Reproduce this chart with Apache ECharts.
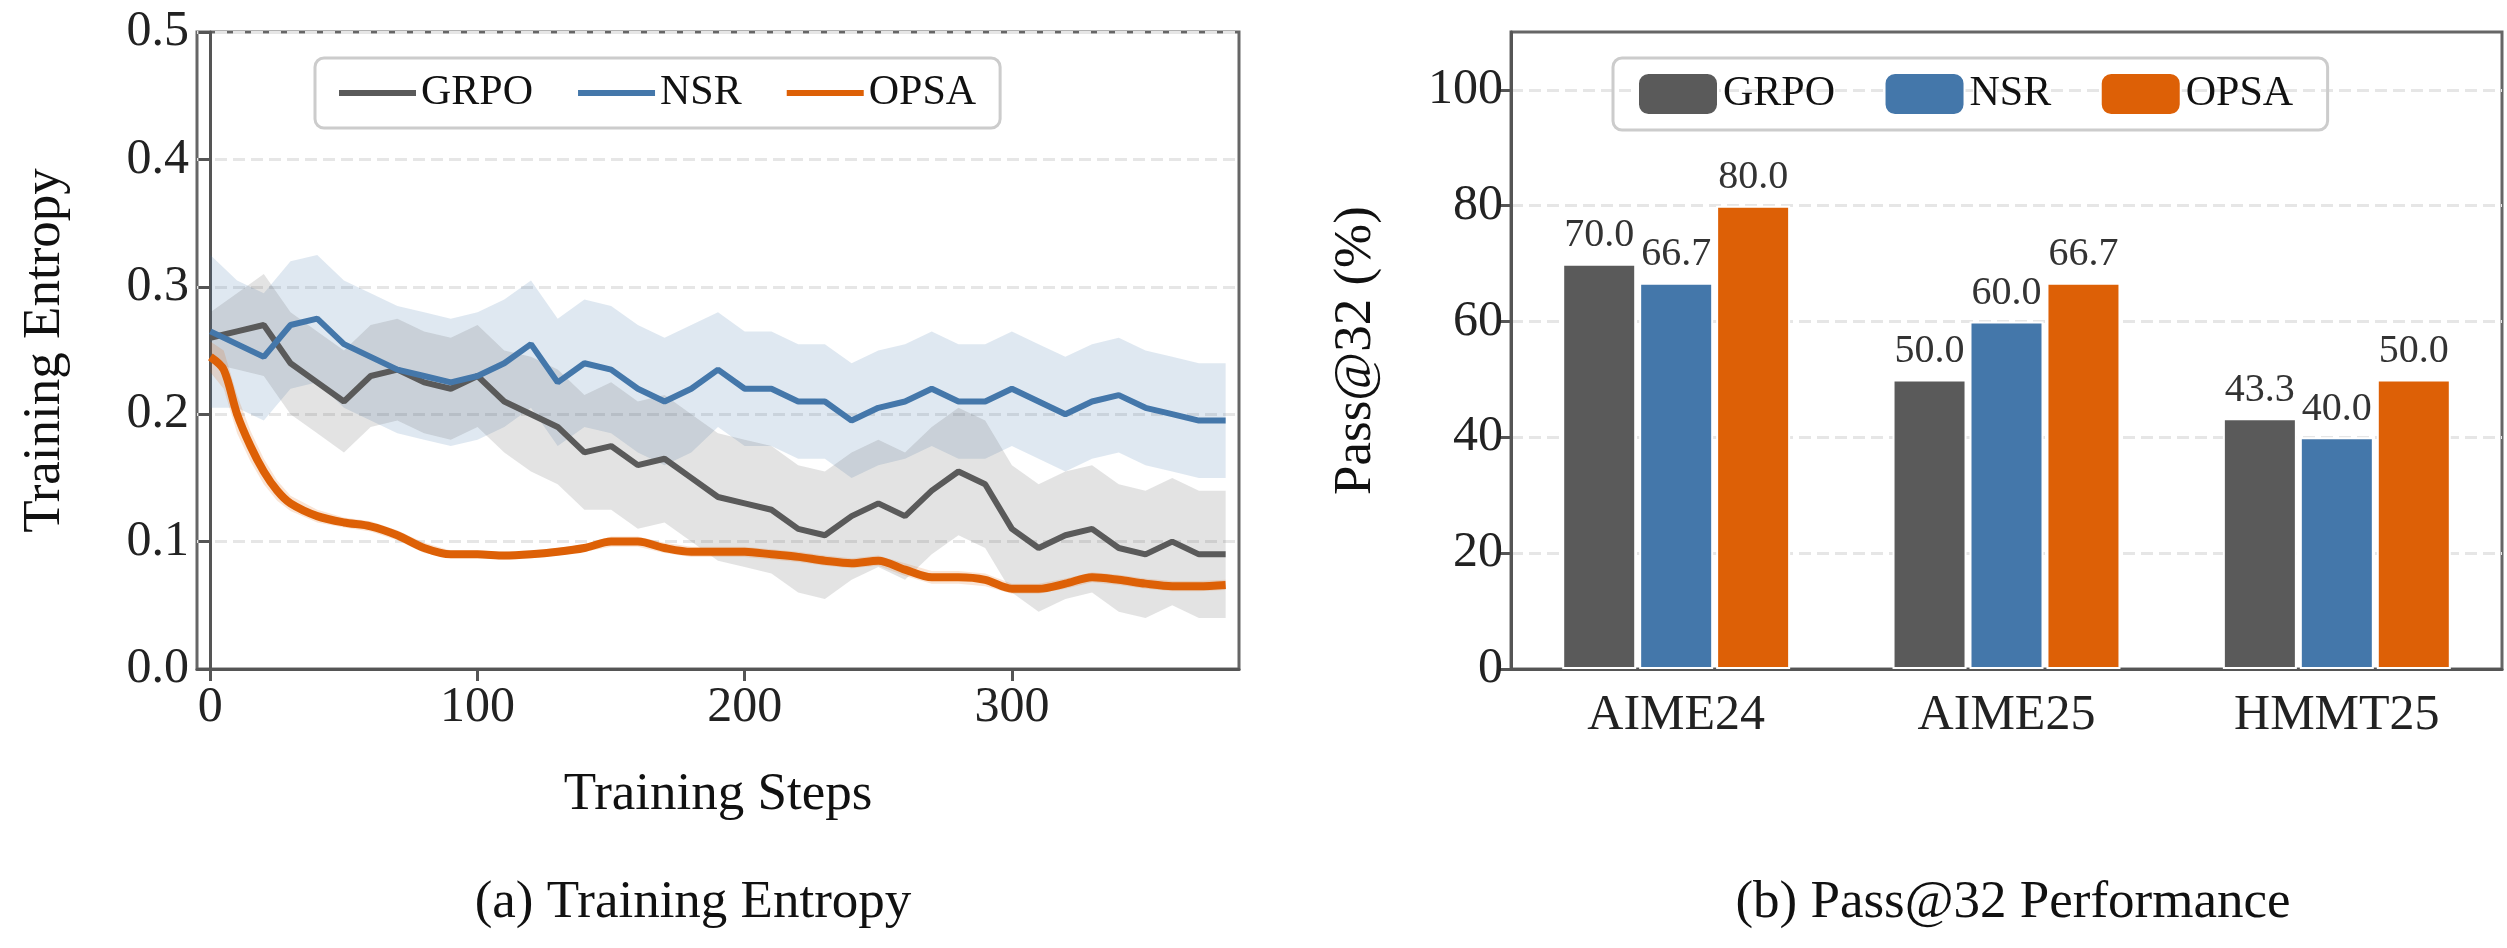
<!DOCTYPE html><html><head><meta charset="utf-8">
<script src="https://cdn.jsdelivr.net/npm/echarts@6/dist/echarts.min.js"></script>
<style>html,body{margin:0;background:#fff}#c{width:2507px;height:948px}</style></head><body><div id="c"></div>
<script>
const steps=[0,10,20,30,40,50,60,70,80,90,100,110,120,130,140,150,160,170,180,190,200,210,220,230,240,250,260,270,280,290,300,310,320,330,340,350,360,370,380];
const grpo=[0.26,0.265,0.27,0.24,0.225,0.21,0.23,0.235,0.225,0.22,0.23,0.21,0.20,0.19,0.17,0.175,0.16,0.165,0.15,0.135,0.13,0.125,0.11,0.105,0.12,0.13,0.12,0.14,0.155,0.145,0.11,0.095,0.105,0.11,0.095,0.09,0.1,0.09,0.09];
const grpoBand=[0.02,0.03,0.04,0.04,0.04,0.04,0.04,0.04,0.04,0.04,0.04,0.04,0.045,0.045,0.045,0.05,0.05,0.05,0.05,0.05,0.05,0.05,0.05,0.05,0.05,0.05,0.05,0.05,0.05,0.05,0.05,0.05,0.05,0.05,0.05,0.05,0.05,0.05,0.05];
const nsr=[0.265,0.255,0.245,0.27,0.275,0.255,0.245,0.235,0.23,0.225,0.23,0.24,0.255,0.225,0.24,0.235,0.22,0.21,0.22,0.235,0.22,0.22,0.21,0.21,0.195,0.205,0.21,0.22,0.21,0.21,0.22,0.21,0.2,0.21,0.215,0.205,0.2,0.195,0.195];
const nsrBand=[0.06,0.05,0.05,0.05,0.05,0.05,0.05,0.05,0.05,0.05,0.05,0.05,0.05,0.05,0.05,0.05,0.05,0.05,0.05,0.045,0.045,0.045,0.045,0.045,0.045,0.045,0.045,0.045,0.045,0.045,0.045,0.045,0.045,0.045,0.045,0.045,0.045,0.045,0.045];
const opsaSteps=[0,5,10,15,20,25,30,40,50,60,70,80,90,100,110,120,130,140,150,160,170,180,190,200,210,220,230,240,250,260,270,280,290,300,310,320,330,340,350,360,370,380];
const opsa=[0.245,0.235,0.2,0.175,0.155,0.14,0.13,0.12,0.115,0.112,0.105,0.095,0.09,0.09,0.089,0.09,0.092,0.095,0.1,0.1,0.095,0.092,0.092,0.092,0.09,0.088,0.085,0.083,0.085,0.078,0.072,0.072,0.07,0.063,0.063,0.067,0.072,0.07,0.067,0.065,0.065,0.066];
const opsaBand=[0.012,0.015,0.015,0.012,0.01,0.008,0.006,0.005,0.004,0.004,0.004,0.004,0.003,0.003,0.003,0.003,0.003,0.003,0.004,0.004,0.004,0.004,0.004,0.004,0.004,0.004,0.004,0.004,0.004,0.005,0.005,0.005,0.005,0.004,0.004,0.004,0.004,0.004,0.004,0.004,0.004,0.004];
const benches=['AIME24','AIME25','HMMT25'];
const barGRPO=[70.0,50.0,43.3];
const barNSR=[66.7,60.0,40.0];
const barOPSA=[80.0,66.7,50.0];
const C={g:'#5a5a5a',n:'#4477aa',o:'#dd6006'};
const F='Liberation Serif';
function band(xs,ys,bs,color){
  const data=xs.map((x,i)=>[x,ys[i]-bs[i],ys[i]+bs[i]]);
  return {type:'custom',xAxisIndex:0,yAxisIndex:0,silent:true,z:1,data,
    renderItem:(params,api)=>{
      if(params.dataIndex!==0) return;
      const up=data.map(d=>api.coord([d[0],d[2]]));
      const lo=data.map(d=>api.coord([d[0],d[1]])).reverse();
      return {type:'polygon',shape:{points:up.concat(lo)},style:{fill:color,opacity:0.17}};
    }};
}
const axisTxt={fontFamily:F,fontSize:50,color:'#222'};
const ax={lineStyle:{color:'#555',width:3}};
const opt={
  animation:false,
  grid:[{left:197,right:1268,top:32,bottom:279,show:true,borderColor:'#666',borderWidth:3},
        {left:1511,right:5,top:32,bottom:279,show:true,borderColor:'#666',borderWidth:3}],
  legend:[{top:58,left:315,itemGap:45,itemWidth:77,itemHeight:6,textStyle:{fontFamily:F,fontSize:42,color:'#111'},
           borderColor:'#ccc',borderWidth:3,borderRadius:9,padding:[14,24],data:['GRPO','NSR','OPSA'],icon:'rect'},
          {top:58,left:1613,itemGap:38,itemWidth:80,itemHeight:42,textStyle:{fontFamily:F,fontSize:42,color:'#111'},
           borderColor:'#ccc',borderWidth:3,borderRadius:9,padding:[14,24],data:['GRPO ','NSR ','OPSA ']}],
  title:[{text:'(a) Training Entropy',left:688,top:872,textAlign:'center',textStyle:{fontFamily:F,fontSize:53,fontWeight:'normal',color:'#111'}},
         {text:'(b) Pass@32 Performance',left:2008,top:872,textAlign:'center',textStyle:{fontFamily:F,fontSize:53,fontWeight:'normal',color:'#111'}}],
  xAxis:[{type:'value',gridIndex:0,min:-5,max:385,interval:100,name:'Training Steps',nameLocation:'middle',nameGap:100,
          nameTextStyle:{fontFamily:F,fontSize:53,color:'#111'},axisLabel:{...axisTxt,margin:14,customValues:[0,100,200,300]},
          axisTick:{length:12,lineStyle:{color:'#555',width:3},customValues:[0,100,200,300]},axisLine:ax,splitLine:{show:false}},
         {type:'category',gridIndex:1,data:benches,axisLabel:{...axisTxt,margin:22},axisTick:{show:false},axisLine:ax}],
  yAxis:[{type:'value',gridIndex:0,min:0,max:0.5,interval:0.1,name:'Training Entropy',nameLocation:'middle',nameGap:125,
          nameTextStyle:{fontFamily:F,fontSize:53,color:'#111'},axisLabel:{...axisTxt,formatter:v=>v.toFixed(1)},
          axisTick:{show:true,length:12,lineStyle:{color:'#555',width:3}},axisLine:{show:true,...ax},
          splitLine:{lineStyle:{type:'dashed',color:'#e6e6e6',width:3}}},
         {type:'value',gridIndex:1,min:0,max:110,interval:20,name:'Pass@32 (%)',nameLocation:'middle',nameGap:128,
          nameTextStyle:{fontFamily:F,fontSize:53,color:'#111'},axisLabel:{...axisTxt,customValues:[0,20,40,60,80,100]},
          axisTick:{show:true,length:12,lineStyle:{color:'#555',width:3},customValues:[0,20,40,60,80,100]},axisLine:{show:true,...ax},
          splitLine:{lineStyle:{type:'dashed',color:'#e6e6e6',width:3}}}],
  series:[
    band(steps,nsr,nsrBand,C.n),
    band(steps,grpo,grpoBand,C.g),
    band(opsaSteps,opsa,opsaBand,C.o),
    {name:'GRPO',type:'line',xAxisIndex:0,yAxisIndex:0,symbol:'none',color:C.g,lineStyle:{width:6},data:steps.map((x,i)=>[x,grpo[i]]),z:3},
    {name:'NSR',type:'line',xAxisIndex:0,yAxisIndex:0,symbol:'none',color:C.n,lineStyle:{width:6},data:steps.map((x,i)=>[x,nsr[i]]),z:3},
    {name:'OPSA',type:'line',xAxisIndex:0,yAxisIndex:0,symbol:'none',color:C.o,lineStyle:{width:8},smooth:0.3,data:opsaSteps.map((x,i)=>[x,opsa[i]]),z:4},
    ...[['GRPO ',barGRPO,C.g],['NSR ',barNSR,C.n],['OPSA ',barOPSA,C.o]].map(([n,d,c])=>({
      name:n,type:'bar',xAxisIndex:1,yAxisIndex:1,data:d,color:c,barGap:'4%',barCategoryGap:'31%',
      itemStyle:{borderColor:'#fff',borderWidth:2},
      label:{show:true,position:'top',distance:8,formatter:p=>p.value.toFixed(1),fontFamily:F,fontSize:40,color:'#333'}}))
  ]
};
echarts.init(document.getElementById('c')).setOption(opt);
</script></body></html>
